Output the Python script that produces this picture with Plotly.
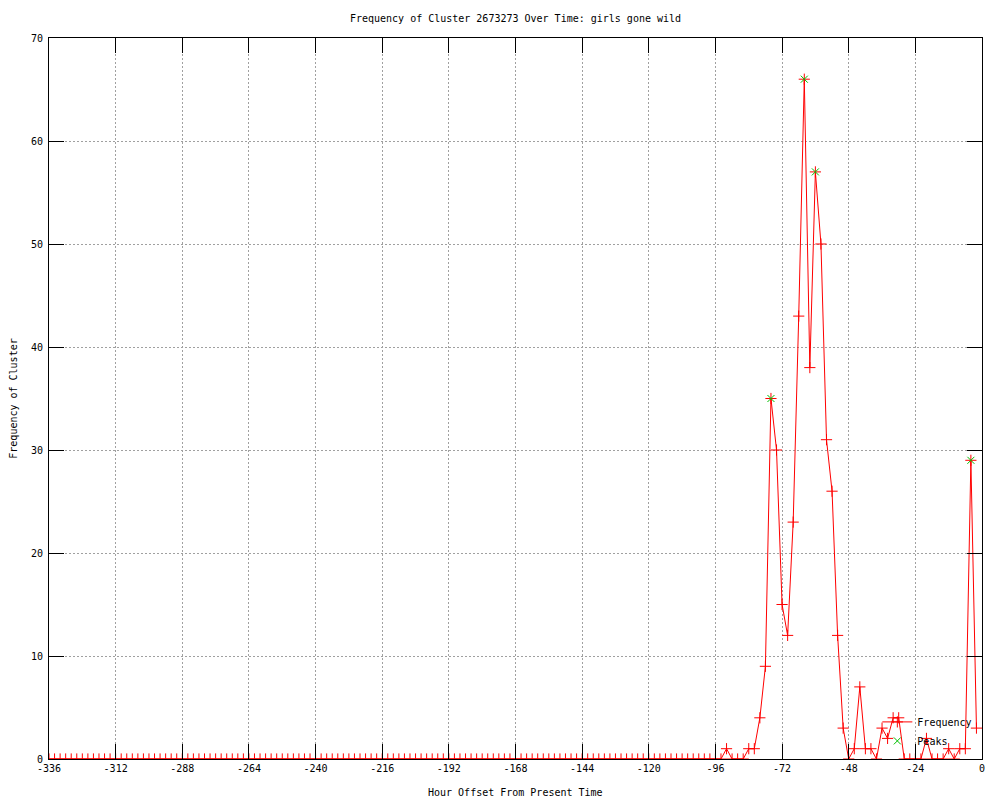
import plotly.graph_objects as go

hours = [
    -336, -334, -332, -330, -328, -326, -324, -322, -320, -318, -316, -314,
    -312, -310, -308, -306, -304, -302, -300, -298, -296, -294, -292, -290,
    -288, -286, -284, -282, -280, -278, -276, -274, -272, -270, -268, -266,
    -264, -262, -260, -258, -256, -254, -252, -250, -248, -246, -244, -242,
    -240, -238, -236, -234, -232, -230, -228, -226, -224, -222, -220, -218,
    -216, -214, -212, -210, -208, -206, -204, -202, -200, -198, -196, -194,
    -192, -190, -188, -186, -184, -182, -180, -178, -176, -174, -172, -170,
    -168, -166, -164, -162, -160, -158, -156, -154, -152, -150, -148, -146,
    -144, -142, -140, -138, -136, -134, -132, -130, -128, -126, -124, -122,
    -120, -118, -116, -114, -112, -110, -108, -106, -104, -102, -100, -98,
    -96, -94, -92, -90, -88, -86, -84, -82, -80, -78, -76, -74,
    -72, -70, -68, -66, -64, -62, -60, -58, -56, -54, -52, -50,
    -48, -46, -44, -42, -40, -38, -36, -34, -32, -30, -28, -26,
    -24, -22, -20, -18, -16, -14, -12, -10, -8, -6, -4, -2,
]

frequency = [
    0, 0, 0, 0, 0, 0, 0, 0, 0, 0, 0, 0,
    0, 0, 0, 0, 0, 0, 0, 0, 0, 0, 0, 0,
    0, 0, 0, 0, 0, 0, 0, 0, 0, 0, 0, 0,
    0, 0, 0, 0, 0, 0, 0, 0, 0, 0, 0, 0,
    0, 0, 0, 0, 0, 0, 0, 0, 0, 0, 0, 0,
    0, 0, 0, 0, 0, 0, 0, 0, 0, 0, 0, 0,
    0, 0, 0, 0, 0, 0, 0, 0, 0, 0, 0, 0,
    0, 0, 0, 0, 0, 0, 0, 0, 0, 0, 0, 0,
    0, 0, 0, 0, 0, 0, 0, 0, 0, 0, 0, 0,
    0, 0, 0, 0, 0, 0, 0, 0, 0, 0, 0, 0,
    0, 0, 1, 0, 0, 0, 1, 1, 4, 9, 35, 30,
    15, 12, 23, 43, 66, 38, 57, 50, 31, 26, 12, 3,
    0, 1, 7, 1, 1, 0, 3, 2, 4, 4, 0, 0,
    0, 0, 2, 0, 0, 0, 1, 0, 1, 1, 29, 3,
]

peak_hours = [-76, -64, -60, -4]
peak_values = [35, 66, 57, 29]

x_tick_vals = [-336, -312, -288, -264, -240, -216, -192, -168, -144, -120, -96, -72, -48, -24, 0]
x_tick_text = ["-336", "-312", "-288", "-264", "-240", "-216", "-192", "-168", "-144", "-120", "-96", "-72", "-48", "-24", "0"]
y_tick_vals = [0, 10, 20, 30, 40, 50, 60, 70]

FONT = "DejaVu Sans Mono"

fig = go.Figure()
fig.add_trace(go.Scatter(
    x=hours, y=frequency, mode="lines+markers", name="Frequency",
    line=dict(color="#ff0000", width=1),
    marker=dict(symbol="cross-thin-open", size=8, line=dict(color="#ff0000", width=1), color="#ff0000"),
))
fig.add_trace(go.Scatter(
    x=peak_hours, y=peak_values, mode="markers", name="Peaks",
    marker=dict(symbol="x-thin-open", size=7, line=dict(color="#00c000", width=1), color="#00c000"),
))

axis_common = dict(
    showline=True, linecolor="black", linewidth=1, mirror="ticks",
    ticks="inside", ticklen=15, tickcolor="black", tickwidth=1,
    showgrid=True, gridcolor="#a0a0a0", griddash="2px,2px", gridwidth=1,
    zeroline=False,
    tickfont=dict(family=FONT, size=10, color="black"),
)

W, H = 984, 792
fig.update_layout(
    width=W, height=H,
    paper_bgcolor="white", plot_bgcolor="white",
    margin=dict(l=41, r=10, t=30, b=41, autoexpand=False),
    font=dict(family=FONT, size=10, color="black"),
    title=dict(text="Frequency of Cluster 2673273 Over Time: girls gone wild",
               x=0.5, xref="paper", xanchor="center",
               y=1 - 10 / H, yref="container", yanchor="middle",
               font=dict(family=FONT, size=10, color="black")),
    xaxis=dict(range=[-336, 0], tickvals=x_tick_vals, ticktext=x_tick_text,
               **axis_common),
    yaxis=dict(range=[0, 70], tickvals=y_tick_vals,
               ticklabelstandoff=3,
               title=dict(text="Frequency of Cluster", standoff=11,
                          font=dict(family=FONT, size=10)),
               **axis_common),
    annotations=[dict(text="Hour Offset From Present Time", xref="paper", yref="paper",
                      x=0.5, y=0, xanchor="center", yanchor="middle", yshift=-33,
                      showarrow=False, font=dict(family=FONT, size=10, color="black"))],
    legend=dict(x=0.995, y=0.005, xanchor="right", yanchor="bottom",
                bgcolor="rgba(0,0,0,0)", borderwidth=0,
                font=dict(family=FONT, size=10, color="black")),
    showlegend=True,
)

fig.write_html("out.html")
